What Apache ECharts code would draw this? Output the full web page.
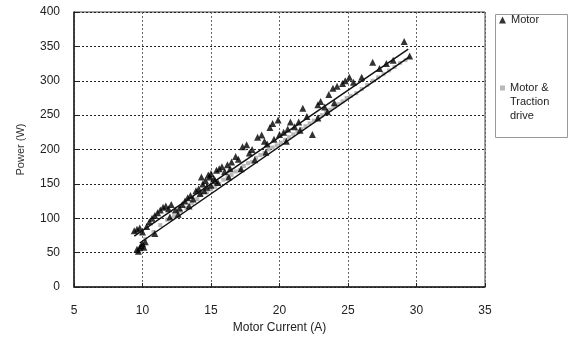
<!DOCTYPE html>
<html><head><meta charset="utf-8">
<script src="https://cdn.jsdelivr.net/npm/echarts@6/dist/echarts.min.js"></script>
<style>html,body{margin:0;padding:0;background:#fff}#c{width:568px;height:340px}</style>
</head><body><div id="c"></div>
<script>
const xTicks = [5, 10, 15, 20, 25, 30, 35];
const yTicks = [0, 50, 100, 150, 200, 250, 300, 350, 400];
const seriesNames = ['Motor', 'Motor & Traction drive'];

const motorCurrent = [9.6,9.7,9.8,9.9,10.0,10.2,10.1,9.4,9.6,9.8,10.0,10.3,10.9,10.5,10.7,10.9,11.1,11.3,11.5,11.7,11.9,12.0,12.1,12.4,12.7,
  12.9,13.1,13.3,13.5,13.7,13.9,14.1,14.2,14.4,14.6,14.7,14.9,15.0,15.2,15.4,15.6,15.8,16.0,16.2,16.5,16.8,17.0,17.3,17.6,17.8,18.0,
  18.4,18.7,18.9,19.1,19.3,19.5,19.9,19.6,20.0,20.3,20.6,20.8,21.1,21.4,21.7,22.0,22.4,22.8,22.8,23.0,23.3,23.6,23.9,24.2,24.6,24.8,
  25.1,25.4,26.0,26.8,27.3,27.8,28.3,29.1,29.5,14.3,14.8,15.3,16.4,
  14.5,15.0,15.5,16.3,17.2,18.2,19.0,20.5,21.5,23.5,24.0,12.6,13.4];
const motorPower = [55,52,57,60,63,66,58,82,84,86,80,88,78,95,100,104,108,112,116,118,114,102,120,112,115,
  120,125,130,133,128,140,143,136,150,155,145,160,165,158,170,172,175,168,178,182,190,186,204,207,195,200,
  218,221,212,208,232,238,243,215,222,225,230,240,233,240,260,248,222,246,265,270,262,280,289,292,296,300,
  305,298,305,327,318,325,330,357,336,160,163,155,172,
  140,148,152,160,172,185,196,212,228,255,268,106,118];

const tractionCurrent = [10.2,10.8,11.3,11.8,12.3,12.8,13.2,13.6,14.0,14.3,14.7,15.0,15.3,15.6,15.9,16.2,16.5,16.8,17.1,17.4,17.7,18.0,
  18.3,18.6,18.9,19.2,19.5,19.8,20.1,20.4,20.7,21.0,21.3,21.6,21.9,22.2,22.5,22.8,23.1,23.4,23.7,24.0,24.3,24.6,24.9,25.2,25.6,26.0,
  26.4,26.8,27.2,27.6,28.0,28.4,28.8,29.2];
const tractionPower = [70,80,90,98,103,110,115,122,128,135,138,142,146,150,156,160,163,168,170,176,180,182,
  188,192,195,200,203,206,210,214,218,222,226,230,234,238,242,246,250,254,258,262,266,270,275,278,282,288,
  294,300,305,310,315,320,326,330];

// trend lines (end points)
const motorTrendX = [9.4, 29.4];
const motorTrendY = [74, 346];
const tractionTrendX = [9.8, 29.5];
const tractionTrendY = [64, 335];

const zip = (a, b) => a.map((v, i) => [v, b[i]]);

const chart = echarts.init(document.getElementById('c'), null, {renderer: 'canvas'});
const font = 'Liberation Sans, Arial, sans-serif';
chart.setOption({
  animation: false,
  grid: {left: 74, top: 12, right: 83, bottom: 53, show: true, borderColor: '#444', borderWidth: 1},
  xAxis: {
    type: 'value', min: xTicks[0], max: xTicks[xTicks.length-1], interval: 5,
    name: 'Motor Current (A)', nameLocation: 'middle', nameGap: 34,
    nameTextStyle: {fontFamily: font, fontSize: 12, color: '#222'},
    axisLine: {show: true, lineStyle: {color: '#222', width: 1.5}},
    axisTick: {show: true, inside: true, length: 4, lineStyle: {color: '#222'}},
    axisLabel: {fontFamily: font, fontSize: 12, color: '#222', margin: 18},
    splitLine: {show: true, lineStyle: {color: '#666', type: [2, 2], width: 1}}
  },
  yAxis: {
    type: 'value', min: yTicks[0], max: yTicks[yTicks.length-1], interval: 50,
    name: 'Power (W)', nameLocation: 'middle', nameGap: 48, nameRotate: 90,
    nameTextStyle: {fontFamily: font, fontSize: 11, color: '#333'},
    axisLine: {show: true, lineStyle: {color: '#222', width: 1.5}},
    axisTick: {show: true, inside: true, length: 4, lineStyle: {color: '#222'}},
    axisLabel: {fontFamily: font, fontSize: 12, color: '#222', margin: 14},
    splitLine: {show: true, lineStyle: {color: '#222', type: [2, 2], width: 1}}
  },
  legend: [
    {data: [{name: seriesNames[0], icon: 'triangle'}], orient: 'vertical', left: 499, top: 13, padding: 0,
     itemWidth: 7, itemHeight: 7, itemGap: 0, itemTextGap: 10,
     textStyle: {fontFamily: font, fontSize: 11, color: '#222', lineHeight: 14}},
    {data: [{name: seriesNames[1], icon: 'rect'}], orient: 'vertical', left: 500, top: 53, padding: 0,
     itemWidth: 5, itemHeight: 5, itemGap: 0, itemTextGap: 11,
     formatter: () => '\n\nMotor &\nTraction\ndrive',
     textStyle: {fontFamily: font, fontSize: 11, color: '#222', lineHeight: 14}}
  ],
  graphic: [{type: 'rect', left: 493, top: 12, shape: {width: 72, height: 123}, silent: true,
    style: {fill: 'none', stroke: '#999', lineWidth: 1}}],
  series: [
    {name: seriesNames[1], type: 'scatter', data: zip(tractionCurrent, tractionPower), symbol: 'rect', symbolSize: 4,
     itemStyle: {color: '#a8a8a8'}, z: 2},
    {name: seriesNames[0], type: 'scatter', data: zip(motorCurrent, motorPower), symbol: 'triangle', symbolSize: 7,
     itemStyle: {color: '#000'}, z: 3},
    {type: 'line', data: zip(motorTrendX, motorTrendY), symbol: 'none', lineStyle: {color: '#111', width: 1.5}, z: 4, silent: true},
    {type: 'line', data: zip(tractionTrendX, tractionTrendY), symbol: 'none', lineStyle: {color: '#111', width: 1.5}, z: 4, silent: true}
  ]
});
</script></body></html>
